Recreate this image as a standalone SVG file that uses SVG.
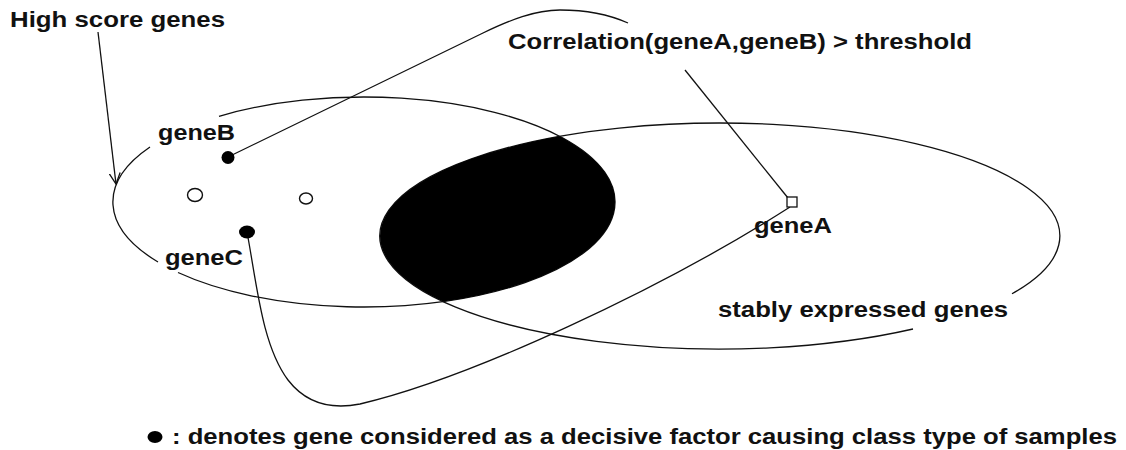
<svg xmlns="http://www.w3.org/2000/svg" width="1126" height="450" viewBox="0 0 1126 450">
<style>
  .ln { fill: none; stroke: #111; stroke-width: 1.3; }
  .txt { font-family: "Liberation Sans", Arial, sans-serif; font-weight: bold; font-size: 22px; fill: #111; }
  .dot { fill: #000; }
  .open { fill: #fff; stroke: #111; stroke-width: 1.4; }
</style>
<defs>
  <clipPath id="clipHigh">
    <ellipse cx="364" cy="202" rx="251" ry="105"/>
  </clipPath>
  <marker id="vhead" viewBox="0 0 12 12" refX="11" refY="6" markerWidth="12" markerHeight="12" markerUnits="userSpaceOnUse" orient="auto">
    <path d="M0,0.5 L11,6 L0,11.5" fill="none" stroke="#111" stroke-width="1.3"/>
  </marker>
</defs>
<rect width="1126" height="450" fill="#fff"/>

<g id="set-high-score">
  <path class="ln" d="M219,116.3 A251,105 0 1 1 178,272.5"/>
  <path class="ln" d="M158,262 A251,105 0 0 1 150,147"/>
  <text class="txt" x="10" y="27" textLength="215" lengthAdjust="spacingAndGlyphs">High score genes</text>
</g>

<g id="set-stable">
  <path class="ln" d="M913,329 A340,113 0 1 1 1012,293.8"/>
  <text class="txt" x="718" y="317" textLength="290" lengthAdjust="spacingAndGlyphs">stably expressed genes</text>
</g>

<g id="intersection">
  <ellipse cx="720" cy="236" rx="340" ry="113" fill="#000" clip-path="url(#clipHigh)"/>
</g>

<g id="gene-others">
  <ellipse class="open" cx="195" cy="195" rx="7.5" ry="6.5"/>
  <ellipse class="open" cx="306" cy="198.5" rx="6.5" ry="5.5"/>
</g>

<g id="connectors">
  <path class="ln" d="M98,32 L116,184" marker-end="url(#vhead)"/>
  <path class="ln" d="M228,157 C330,108 420,64 483,33 C510,20 535,10 560,10 C590,10 610,15 628,23"/>
  <path class="ln" d="M685,70 L788,198"/>
  <path class="ln" d="M247,232 C257,285 262,345 288,380 C305,402 330,410 360,404 C470,378 660,290 790,207"/>
</g>

<g id="gene-B">
  <circle class="dot" cx="228" cy="157.5" r="6.5"/>
  <text class="txt" x="158" y="140" textLength="77" lengthAdjust="spacingAndGlyphs">geneB</text>
</g>

<g id="gene-C">
  <ellipse class="dot" cx="247" cy="232" rx="8" ry="6.5"/>
  <text class="txt" x="165" y="265" textLength="78" lengthAdjust="spacingAndGlyphs">geneC</text>
</g>

<g id="gene-A">
  <rect x="787" y="197" width="10" height="10" fill="#fff" stroke="#111" stroke-width="1.3"/>
  <text class="txt" x="754" y="233" textLength="78" lengthAdjust="spacingAndGlyphs">geneA</text>
</g>

<g id="correlation-label">
  <text class="txt" x="508" y="49" textLength="464" lengthAdjust="spacingAndGlyphs">Correlation(geneA,geneB) &gt; threshold</text>
</g>

<g id="legend">
  <ellipse class="dot" cx="155" cy="437" rx="7.5" ry="6"/>
  <text class="txt" x="172" y="444" textLength="945" lengthAdjust="spacingAndGlyphs">: denotes gene considered as a decisive factor causing class type of samples</text>
</g>
</svg>
